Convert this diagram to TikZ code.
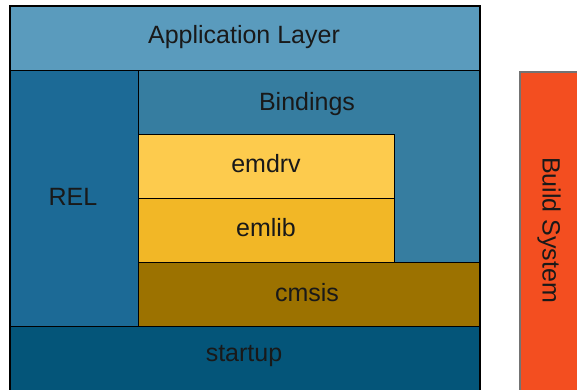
\documentclass[tikz,border=0pt]{standalone}
\usepackage{fontspec}
\setmainfont{Liberation Sans}
\definecolor{appc}{HTML}{5A9BBD}
\definecolor{relc}{HTML}{1C6A96}
\definecolor{bindc}{HTML}{367DA0}
\definecolor{drvc}{HTML}{FDCB4D}
\definecolor{libc}{HTML}{F2B726}
\definecolor{cmsc}{HTML}{9C7200}
\definecolor{stc}{HTML}{045579}
\definecolor{buildc}{HTML}{F34E20}
\tikzset{
  layer/.style={draw=black, line width=1.1pt, inner sep=0pt, anchor=north west, rectangle},
  lbl/.style={font=\fontsize{25}{28}\selectfont, text=black!90, inner sep=0pt}
}
\begin{document}
\begin{tikzpicture}[x=1pt,y=-1pt]
\useasboundingbox (0,0) rectangle (577,389);
\clip (0,0) rectangle (577,389);
% stacked layers
\node[layer, fill=appc, minimum width=470pt, minimum height=64pt] (app) at (10,6) {};
\node[layer, fill=relc, minimum width=128pt, minimum height=256pt] (rel) at (10,70) {};
\node[layer, fill=bindc, minimum width=342pt, minimum height=192pt] (bind) at (138,70) {};
\node[layer, fill=drvc, minimum width=256pt, minimum height=64pt] (drv) at (138,134) {};
\node[layer, fill=libc, minimum width=256pt, minimum height=64pt] (lib) at (138,198) {};
\node[layer, fill=cmsc, minimum width=342pt, minimum height=64pt] (cms) at (138,262) {};
\node[layer, fill=stc, minimum width=470pt, minimum height=70pt] (st) at (10,326) {};
\draw[black, line width=1.4pt] (10,400) -- (10,5.3) -- (480,5.3) -- (480,400);
% build system
\node[layer, draw=gray!90!black, line width=1.8pt, fill=buildc, minimum width=70pt, minimum height=330pt] (build) at (519,71) {};
% labels
\node[lbl] (tapp) at (244,37.5) {Application Layer};
\node[lbl] (trel) at (73,197) {REL};
\node[lbl] (tbind) at (307,104) {Bindings};
\node[lbl] (tdrv) at (266,164) {emdrv};
\node[lbl] (tlib) at (266,228) {emlib};
\node[lbl] (tcms) at (307,293) {cmsis};
\node[lbl] (tst) at (244,356) {startup};
\node[lbl, rotate=-90] (tbuild) at (549,230) {Build System};
\end{tikzpicture}
\end{document}
